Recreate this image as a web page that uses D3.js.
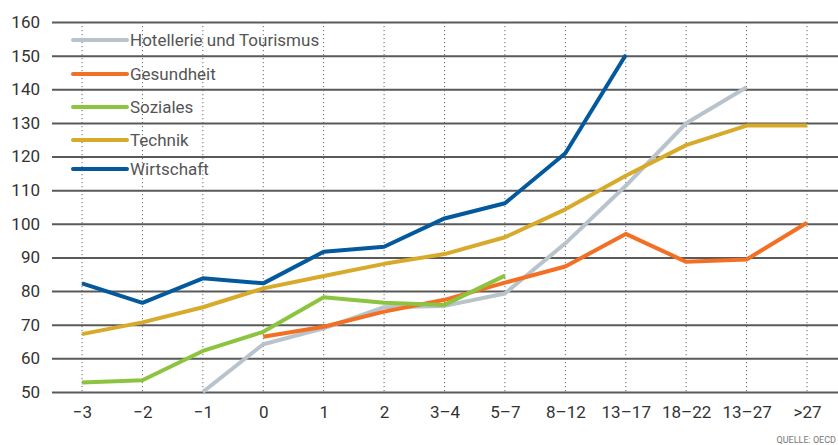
<!DOCTYPE html>
<html>
<head>
<meta charset="utf-8">
<script src="https://cdn.jsdelivr.net/npm/d3@7"></script>
<style>
  body { margin: 0; background: #fff; }
  text { font-family: Roboto, "Noto Sans", sans-serif; }
</style>
</head>
<body>
<svg id="chart" width="838" height="445"></svg>
<script>
// categories (years of experience) and y ticks
const categories = ['−3', '−2', '−1', '0', '1', '2', '3–4', '5–7', '8–12', '13–17', '18–22', '13–27', '>27']
const yTicks = [50, 60, 70, 80, 90, 100, 110, 120, 130, 140, 150, 160]

// series values, null = no value
const hotellerie = [null, null, 50, 64.2, 68.9, 75.2, 75.6, 79.3, 94.2, 111.3, 129.9, 140.6, null]
const gesundheit = [null, null, null, 66.4, 69.4, 73.9, 77.4, 82.5, 87.3, 97, 88.7, 89.4, 100.3]
const soziales = [52.8, 53.5, 62.2, 67.9, 78.2, 76.5, 75.9, 84.6, null, null, null, null, null]
const technik = [67.2, 70.7, 75.2, 80.8, 84.5, 88.1, 91, 96, 104.3, 114.3, 123.4, 129.2, 129.2]
const wirtschaft = [82.3, 76.5, 83.8, 82.3, 91.7, 93.2, 101.6, 106.1, 121, 150.2, null, null, null]

const seriesNames = ['Hotellerie und Tourismus', 'Gesundheit', 'Soziales', 'Technik', 'Wirtschaft']
const seriesValues = [hotellerie, gesundheit, soziales, technik, wirtschaft]
const colors = ['#b9c3cc', '#f36f24', '#8cc440', '#d8aa2a', '#04599d']

const width = 838, height = 445
const marginTop = 22, marginBottom = 53, marginLeft = 52

const svg = d3.select('#chart')

const x = d3.scalePoint(categories, [82, 807])
const y = d3.scaleLinear([50, 160], [height - marginBottom, marginTop])

// dotted vertical grid
svg.append('g')
  .selectAll('line')
  .data(categories)
  .join('line')
    .attr('x1', d => x(d)).attr('x2', d => x(d))
    .attr('y1', y(160)).attr('y2', y(50))
    .attr('stroke', '#666')
    .attr('stroke-width', 1)
    .attr('stroke-dasharray', '1.2 2.8')

// horizontal grid + y labels
const yAxis = d3.axisLeft(y).tickValues(yTicks).tickSize(0).tickPadding(12)
svg.append('g')
  .attr('transform', `translate(${marginLeft},0)`)
  .call(yAxis)
  .call(g => g.select('.domain').remove())
  .call(g => g.selectAll('.tick line').clone()
      .attr('x2', width - marginLeft)
      .attr('stroke', '#5a5a5a')
      .attr('stroke-width', 2))
  .call(g => g.selectAll('.tick text')
      .attr('font-size', 17)
      .attr('fill', '#333'))

// x labels
const xAxis = d3.axisBottom(x).tickSize(0).tickPadding(14)
svg.append('g')
  .attr('transform', `translate(0,${y(50)})`)
  .call(xAxis)
  .call(g => g.select('.domain').remove())
  .call(g => g.selectAll('.tick text')
      .attr('font-size', 17)
      .attr('fill', '#333'))

// lines
const line = d3.line()
  .defined(d => d != null)
  .x((d, i) => x(categories[i]))
  .y(d => y(d))

svg.append('g')
  .selectAll('path')
  .data(seriesValues)
  .join('path')
    .attr('d', d => line(d))
    .attr('fill', 'none')
    .attr('stroke', (d, i) => colors[i])
    .attr('stroke-width', 4)
    .attr('stroke-linejoin', 'round')

// legend
const legendY = [40, 74, 107, 140, 169]
const legend = svg.append('g')
  .selectAll('g')
  .data(seriesNames)
  .join('g')
    .attr('transform', (d, i) => `translate(73,${legendY[i]})`)
legend.append('line')
  .attr('x2', 54)
  .attr('stroke', (d, i) => colors[i])
  .attr('stroke-width', 4)
  .attr('stroke-linecap', 'round')
legend.append('text')
  .attr('x', 57)
  .attr('dy', '0.35em')
  .attr('font-size', 17)
  .attr('fill', '#555')
  .text(d => d)

// source note, right-aligned so it stays inside the frame
svg.append('text')
  .attr('x', 836).attr('y', 443)
  .attr('text-anchor', 'end')
  .attr('font-size', 9)
  .attr('fill', '#777')
  .text('QUELLE: OECD')
</script>
</body>
</html>
